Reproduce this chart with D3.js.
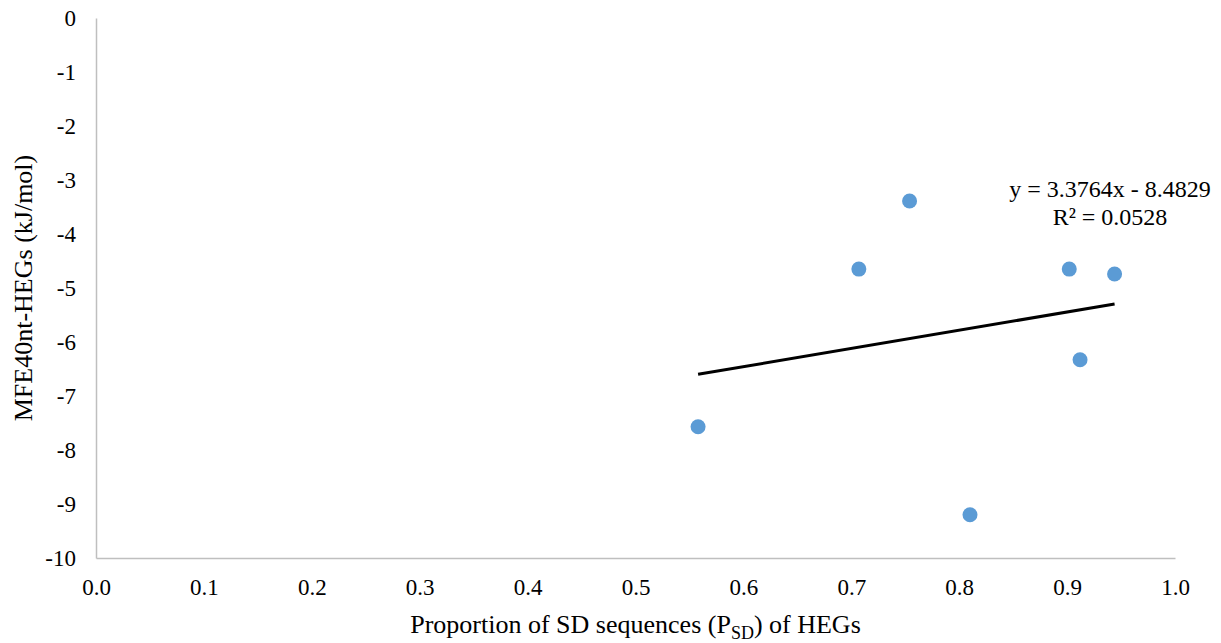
<!DOCTYPE html>
<html>
<head>
<meta charset="utf-8">
<script src="https://cdn.jsdelivr.net/npm/d3@7"></script>
<style>
  body { margin: 0; background: #fff; }
  svg text { font-family: "Liberation Serif", "Times New Roman", serif; fill: #000; }
</style>
</head>
<body>
<div id="chart"></div>
<script>
const psd = [0.558, 0.707, 0.754, 0.810, 0.902, 0.912, 0.944];
const mfe = [-7.57, -4.65, -3.39, -9.20, -4.65, -6.33, -4.74];
const xTicks = [0, 0.1, 0.2, 0.3, 0.4, 0.5, 0.6, 0.7, 0.8, 0.9, 1.0];
const yTicks = [0, -1, -2, -3, -4, -5, -6, -7, -8, -9, -10];
const slope = 3.3764;
const intercept = -8.4829;
const rSquared = 0.0528;

const width = 1221;
const height = 643;

const margin = {
  top: 18,
  right: 46,
  bottom: 85,
  left: 96
};

const svg = d3.select("#chart")
  .append("svg")
  .attr("width", width)
  .attr("height", height);

const xScale = d3.scaleLinear()
  .domain([0, 1])
  .range([margin.left, width - margin.right]);

const yScale = d3.scaleLinear()
  .domain([-10, 0])
  .range([height - margin.bottom, margin.top]);

const points = psd.map((d, i) => ({ x: d, y: mfe[i] }));

// Axes (lines only, no ticks)
const xAxis = svg.append("g")
  .attr("transform", `translate(0, ${yScale(-10)})`)
  .call(d3.axisBottom(xScale).tickValues(xTicks).tickSize(0).tickPadding(21).tickFormat(d3.format(".1f")));

const yAxis = svg.append("g")
  .attr("transform", `translate(${xScale(0)}, 0)`)
  .call(d3.axisLeft(yScale).tickValues(yTicks).tickSize(0).tickPadding(20).tickFormat(d => d));

[xAxis, yAxis].forEach(function(g) {
  g.attr("font-family", null).attr("font-size", null);
  g.select(".domain").attr("stroke", "#bfbfbf").attr("stroke-width", 1.5);
  g.selectAll("text")
    .style("font-family", "'Liberation Serif', serif")
    .style("font-size", "23px")
    .style("fill", "#000");
});

// Trendline over data range
const xMin = d3.min(psd);
const xMax = d3.max(psd);
const trend = [
  { x: xMin, y: slope * xMin + intercept },
  { x: xMax, y: slope * xMax + intercept }
];

svg.append("path")
  .datum(trend)
  .attr("fill", "none")
  .attr("stroke", "#000")
  .attr("stroke-width", 3)
  .attr("d", d3.line().x(d => xScale(d.x)).y(d => yScale(d.y)));

// Points
svg.selectAll(".dot")
  .data(points)
  .enter()
  .append("circle")
  .attr("cx", d => xScale(d.x))
  .attr("cy", d => yScale(d.y))
  .attr("r", 7.5)
  .attr("fill", "#5b9bd5");

// Trendline label
svg.append("text")
  .attr("x", 1110)
  .attr("y", 197)
  .attr("text-anchor", "middle")
  .style("font-size", "24px")
  .text("y = " + slope + "x - " + Math.abs(intercept));

svg.append("text")
  .attr("x", 1110)
  .attr("y", 225)
  .attr("text-anchor", "middle")
  .style("font-size", "24px")
  .text("R\u00B2 = " + rSquared);

// Axis titles
const xTitle = svg.append("text")
  .attr("x", (xScale(0) + xScale(1)) / 2)
  .attr("y", 633)
  .attr("text-anchor", "middle")
  .style("font-size", "26px");
xTitle.append("tspan").text("Proportion of SD sequences (P");
xTitle.append("tspan").attr("dy", 6).style("font-size", "18px").text("SD");
xTitle.append("tspan").attr("dy", -6).text(") of HEGs");

svg.append("text")
  .attr("transform", `translate(32, ${(yScale(0) + yScale(-10)) / 2}) rotate(-90)`)
  .attr("text-anchor", "middle")
  .style("font-size", "26px")
  .text("MFE40nt-HEGs (kJ/mol)");
</script>
</body>
</html>
